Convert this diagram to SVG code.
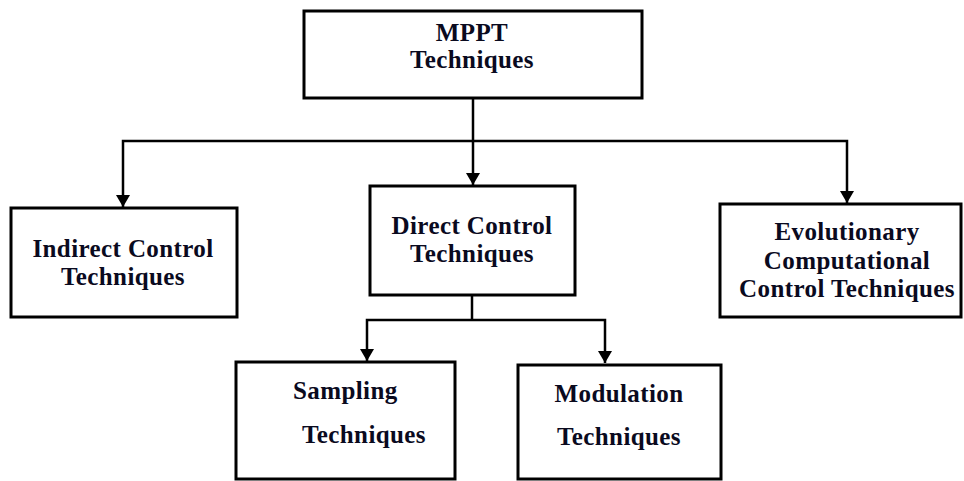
<svg xmlns="http://www.w3.org/2000/svg" width="964" height="481" viewBox="0 0 964 481">
<style>
.box{fill:#fff;stroke:#000;stroke-width:3}
.t{font-family:"Liberation Serif","Times New Roman",serif;font-weight:bold;font-size:25px;letter-spacing:0.4px;fill:#0a0a1e;text-anchor:middle}
.tl{text-anchor:start}
.c{fill:none;stroke:#000;stroke-width:2.5}
</style>
<defs>
<marker id="ah" markerUnits="userSpaceOnUse" markerWidth="14" markerHeight="14" refX="12" refY="7" orient="auto">
<path d="M0,0 L12,7 L0,14 Z" fill="#000"/>
</marker>
</defs>
<g id="connectors">
<path class="c" d="M473,99 V141"/>
<path class="c" d="M473,141 V185" marker-end="url(#ah)"/>
<path class="c" d="M473,141 H123 V207" marker-end="url(#ah)"/>
<path class="c" d="M473,141 H847 V203" marker-end="url(#ah)"/>
<path class="c" d="M472,295 V320"/>
<path class="c" d="M472,320 H367 V361" marker-end="url(#ah)"/>
<path class="c" d="M472,320 H605 V363" marker-end="url(#ah)"/>
</g>
<g id="mppt">
<rect class="box" x="304" y="11" width="338" height="87"/>
<text class="t" x="472" y="41">MPPT</text>
<text class="t" x="472" y="68">Techniques</text>
</g>
<g id="indirect">
<rect class="box" x="11" y="208" width="226" height="109"/>
<text class="t" x="123" y="257">Indirect Control</text>
<text class="t" x="123" y="285">Techniques</text>
</g>
<g id="direct">
<rect class="box" x="370" y="186" width="205" height="109"/>
<text class="t" x="472" y="234">Direct Control</text>
<text class="t" x="472" y="262">Techniques</text>
</g>
<g id="evolutionary">
<rect class="box" x="720" y="204" width="241" height="113"/>
<text class="t" x="847" y="240">Evolutionary</text>
<text class="t" x="847" y="269">Computational</text>
<text class="t" x="847" y="297">Control Techniques</text>
</g>
<g id="sampling">
<rect class="box" x="236" y="362" width="219" height="117"/>
<text class="t tl" x="293" y="399">Sampling</text>
<text class="t tl" x="302" y="443">Techniques</text>
</g>
<g id="modulation">
<rect class="box" x="518" y="365" width="203" height="114"/>
<text class="t" x="619" y="402">Modulation</text>
<text class="t" x="619" y="445">Techniques</text>
</g>
</svg>
